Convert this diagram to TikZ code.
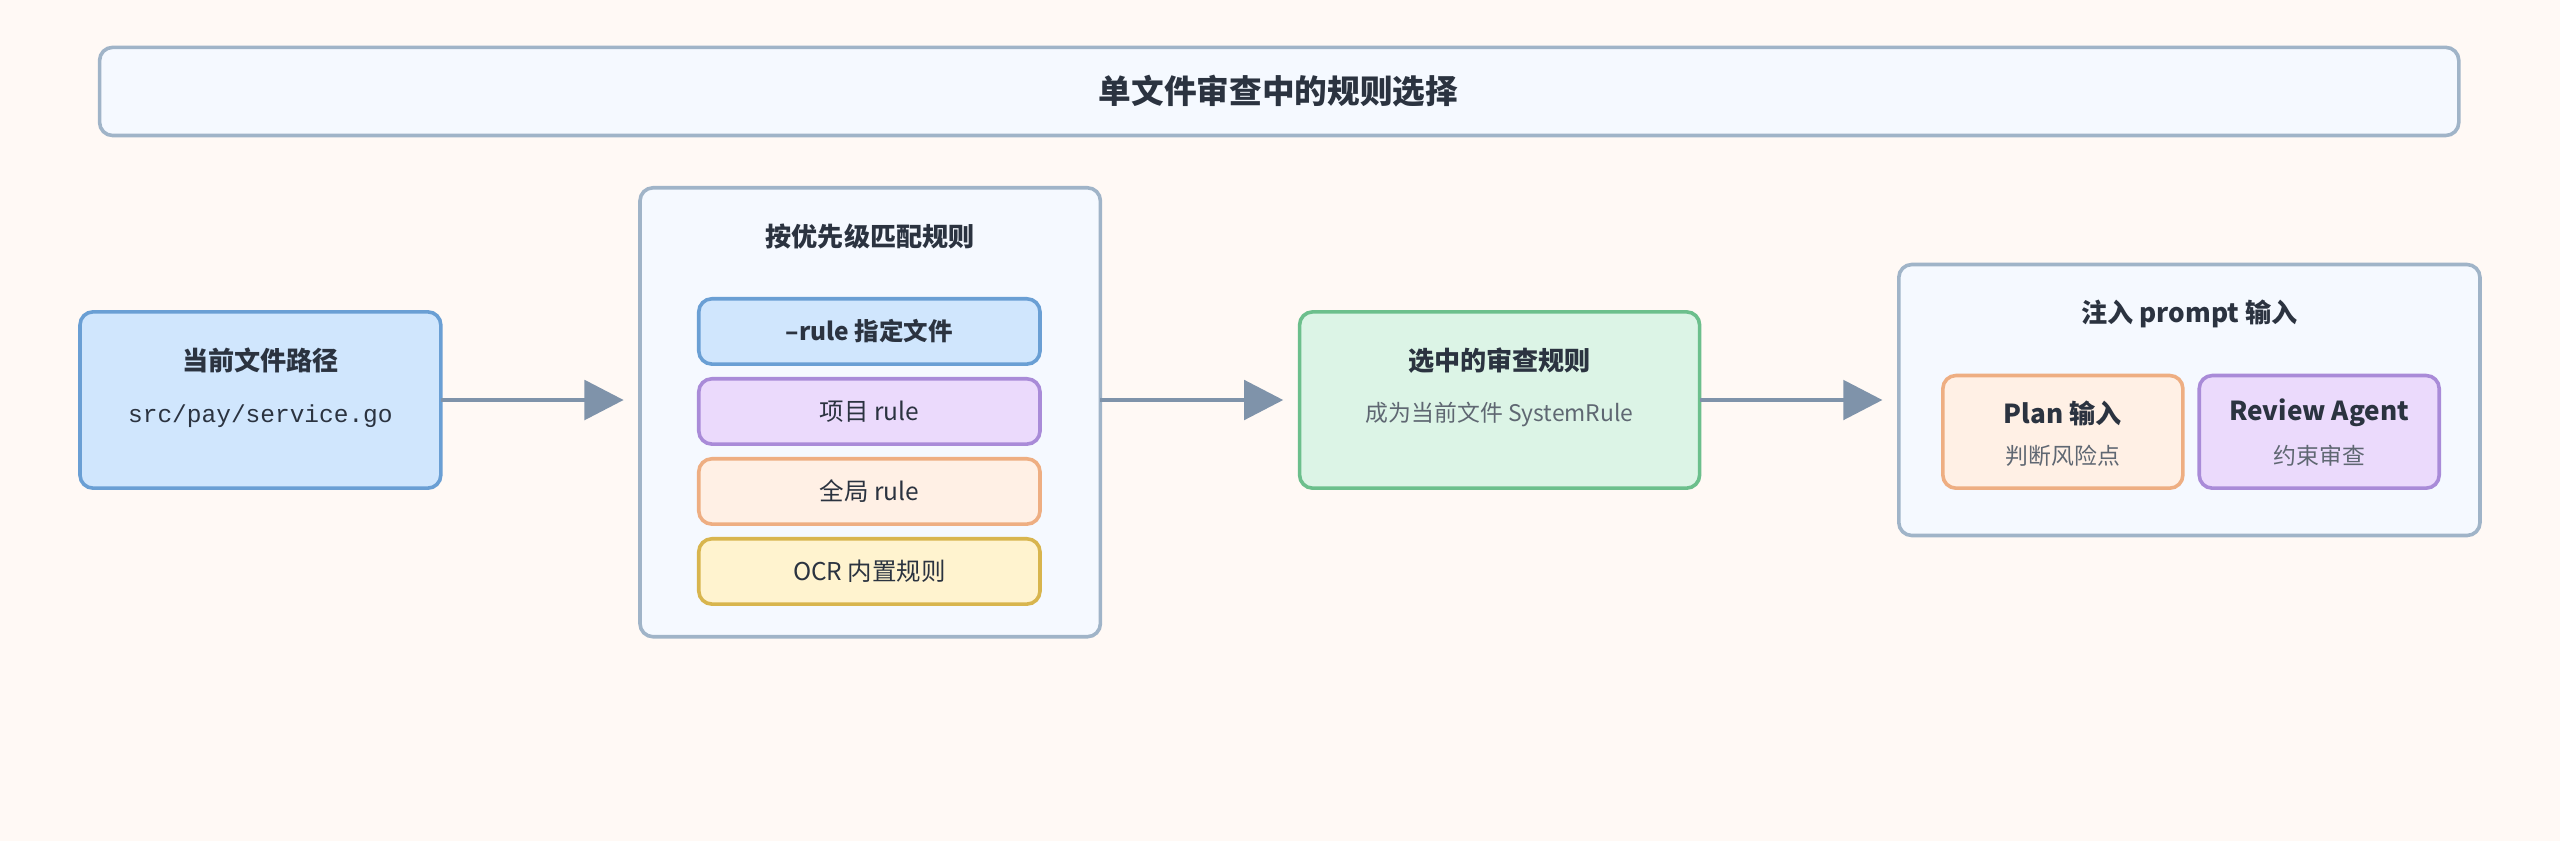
\documentclass[tikz,border=0pt]{standalone}
\usepackage{fontspec}
\setmainfont{Noto Sans CJK SC}
\setmonofont{Liberation Mono}
\usetikzlibrary{arrows.meta}
\definecolor{bg}{HTML}{FFF9F5}
\definecolor{txt}{HTML}{2B3340}
\definecolor{sub}{HTML}{5F6772}
\definecolor{arr}{HTML}{7F93AA}
\definecolor{cbd}{HTML}{A0B4C8}\definecolor{cfl}{HTML}{F5F9FF}
\definecolor{bbd}{HTML}{6A9FD4}\definecolor{bfl}{HTML}{D0E6FD}
\definecolor{pbd}{HTML}{A98BD8}\definecolor{pfl}{HTML}{EBDAFC}
\definecolor{obd}{HTML}{EEAE82}\definecolor{ofl}{HTML}{FFF0E5}
\definecolor{ybd}{HTML}{D8B54E}\definecolor{yfl}{HTML}{FFF3CF}
\definecolor{gbd}{HTML}{6CBF8C}\definecolor{gfl}{HTML}{DCF4E6}
\begin{document}
\begin{tikzpicture}[x=1pt,y=-1pt,
 box/.style={draw=#1bd,fill=#1fl,line width=2.2pt,rounded corners=8pt},
 t/.style={text=txt,font=\bfseries\fontsize{16}{18}\selectfont},
 s/.style={text=sub,font=\fontsize{14}{16}\selectfont},
 a/.style={draw=arr,line width=3pt,-{Triangle[length=24pt,width=24pt]}}]
\useasboundingbox[fill=bg] (0,0) rectangle (1568,515);
\draw[box=c] (61,29) rectangle (1506,83);
\node[text=txt,font=\bfseries\fontsize{20}{22}\selectfont] (title) at (783,56) {单文件审查中的规则选择};
% left
\draw[box=b] (49,191) rectangle (270,299);
\coordinate (L) at (270,245);
\node[t] (lt) at (159.5,221) {当前文件路径};
\node[text=txt,font=\ttfamily\fontsize{15}{17}\selectfont] (ls) at (159.5,255) {src/pay/service.go};
% middle
\draw[box=c] (392,115) rectangle (674,390);
\coordinate (M1) at (392,245); \coordinate (M2) at (674,245);
\node[t] (mt) at (533,145) {按优先级匹配规则};
\draw[box=b] (428,183) rectangle (637,223); \node[t,font=\bfseries\fontsize{15}{17}\selectfont] (r1) at (532.5,203) {--rule 指定文件};
\draw[box=p] (428,232) rectangle (637,272); \node[text=txt,font=\fontsize{15}{17}\selectfont] (r2) at (532.5,252) {项目 rule};
\draw[box=o] (428,281) rectangle (637,321); \node[text=txt,font=\fontsize{15}{17}\selectfont] (r3) at (532.5,301) {全局 rule};
\draw[box=y] (428,330) rectangle (637,370); \node[text=txt,font=\fontsize{15}{17}\selectfont] (r4) at (532.5,350) {OCR 内置规则};
% green
\draw[box=g] (796,191) rectangle (1041,299);
\coordinate (G1) at (796,245); \coordinate (G2) at (1041,245);
\node[t] (gt) at (918.5,221) {选中的审查规则};
\node[s] (gs) at (918.5,254) {成为当前文件 SystemRule};
% right
\draw[box=c] (1163,162) rectangle (1519,328);
\coordinate (R) at (1163,245);
\node[t] (rt) at (1341,192) {注入 prompt 输入};
\draw[box=o] (1190,230) rectangle (1337,299);
\node[t] (pt) at (1263.5,253) {Plan 输入}; \node[s] (ps) at (1263.5,279) {判断风险点};
\draw[box=p] (1347,230) rectangle (1494,299);
\node[t] (at) at (1420.5,253) {Review Agent}; \node[s] (as) at (1420.5,279) {约束审查};
% arrows
\draw[a] (L) -- ([xshift=-10pt]M1);
\draw[a] (M2) -- ([xshift=-10pt]G1);
\draw[a] (G2) -- ([xshift=-10pt]R);
\end{tikzpicture}
\end{document}
